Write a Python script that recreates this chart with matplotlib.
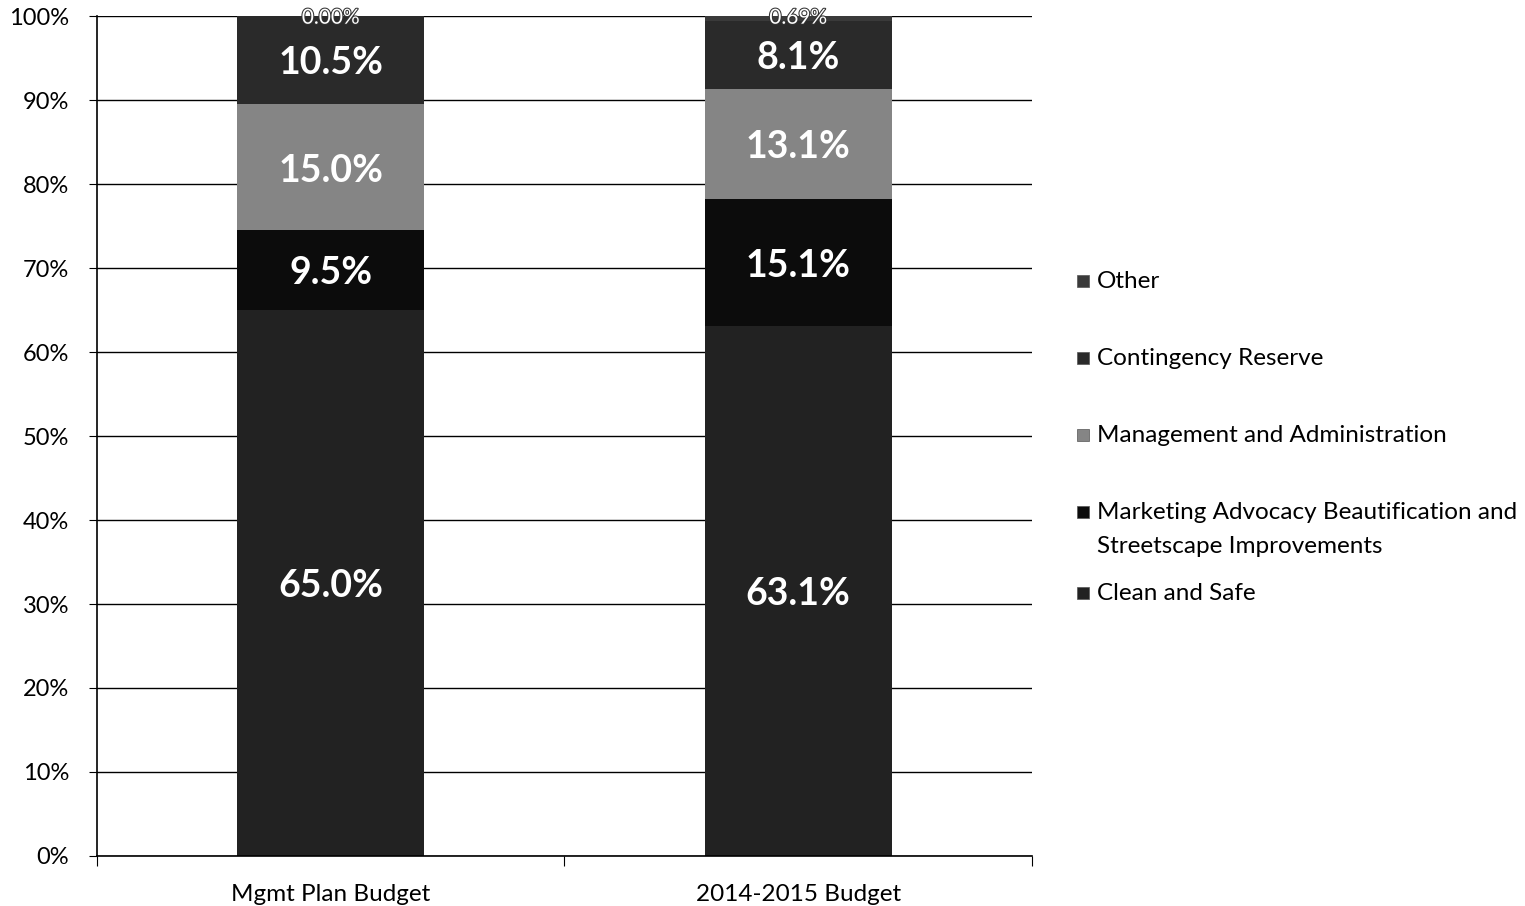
import numpy as np
import matplotlib.pyplot as plt
import matplotlib.patheffects as pe
from matplotlib.patches import Rectangle

plt.rcParams['font.family'] = ['Lato', 'DejaVu Sans']

# Data
budgets = ["Mgmt Plan Budget", "2014-2015 Budget"]
series = ["Clean and Safe",
          "Marketing Advocacy Beautification and\nStreetscape Improvements",
          "Management and Administration",
          "Contingency Reserve",
          "Other"]
clean_safe = [65.0, 63.1]
marketing = [9.5, 15.1]
management = [15.0, 13.1]
contingency = [10.5, 8.1]
other = [0.0, 0.69]
other_labels = ["0.00%", "0.69%"]

colors = ["#222222", "#0c0c0c", "#858585", "#2a2a2a", "#3a3a3a"]

fig = plt.figure(figsize=(15.25, 9.06), dpi=100)
ax = fig.add_axes([0.0636, 0.0552, 0.6131, 0.9271])

x = np.arange(len(budgets))
values = [clean_safe, marketing, management, contingency, other]
bottom = np.zeros(len(budgets))
for i, vals in enumerate(values):
    vals = np.array(vals)
    ax.bar(x, vals, width=0.4, bottom=bottom, color=colors[i], zorder=2)
    for j in range(len(budgets)):
        if i < 4:
            ax.text(x[j], bottom[j] + vals[j] / 2 - 0.4, f"{vals[j]:.1f}%",
                    ha="center", va="center", color="white",
                    fontsize=27, fontweight="bold", zorder=3)
        else:
            t = ax.text(x[j], 99.8, other_labels[j], ha="center", va="center",
                        color="white", fontsize=15, zorder=3)
            t.set_path_effects([pe.withStroke(linewidth=1.5, foreground="#333333")])
    bottom += vals

ax.set_xlim(-0.5, 1.5)
ax.set_ylim(0, 100)
ax.set_yticks(np.arange(0, 101, 10))
ax.set_yticklabels([f"{v}%" for v in range(0, 101, 10)], fontsize=17)
ax.yaxis.grid(True, color="black", linewidth=1.0, zorder=1)
ax.set_axisbelow(True)
ax.set_xticks([-0.5, 0.5, 1.5], minor=False)
ax.set_xticklabels(["", "", ""])
ax.set_xticks(x, minor=True)
ax.set_xticklabels(budgets, minor=True, fontsize=17.5)
ax.tick_params(axis="x", which="minor", length=0, pad=20)
ax.tick_params(axis="x", which="major", length=7, direction="out", color="black")
ax.tick_params(axis="y", length=6, direction="out", color="black", pad=14)
for s in ["top", "right"]:
    ax.spines[s].set_visible(False)
ax.spines["left"].set_color("black")
ax.spines["bottom"].set_color("black")
ax.spines["left"].set_linewidth(1.2)
ax.spines["bottom"].set_linewidth(1.2)

# Legend (reversed order, placed by hand like the Excel legend)
leg_y = [281, 358, 435, 512, 593]
leg_order = [4, 3, 2, 1, 0]
for yy, k in zip(leg_y, leg_order):
    fy = 1 - yy / 906
    fig.patches.append(Rectangle((1077 / 1525, fy - 6 / 906), 12 / 1525, 12 / 906,
                                 transform=fig.transFigure, facecolor=colors[k],
                                 edgecolor="#555555", linewidth=0.5))
    fig.text(1097 / 1525, fy + 10 / 906, series[k], ha="left", va="top",
             fontsize=17.5, linespacing=1.75)

fig.savefig("out.png", dpi=100)
